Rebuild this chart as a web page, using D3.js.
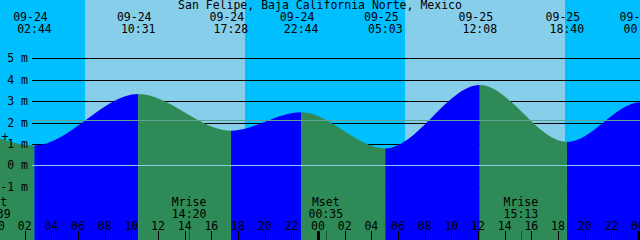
<!DOCTYPE html>
<html>
<head>
<meta charset="utf-8">
<script src="https://cdn.jsdelivr.net/npm/d3@7"></script>
<style>
  html, body { margin: 0; padding: 0; background: #fff; }
  svg { display: block; }
  text { font-family: "DejaVu Sans Mono", monospace; font-size: 11.5px; fill: #000; }
</style>
</head>
<body>
<svg width="640" height="240"></svg>
<script>
const title = 'San Felipe, Baja California Norte, Mexico'

// tide extremes (first and last lie outside the window, they only shape the edges)
const tideTimes = ['2023-09-23 20:00', '2023-09-24 02:44', '2023-09-24 10:31', '2023-09-24 17:28',
  '2023-09-24 22:44', '2023-09-25 05:03', '2023-09-25 12:08', '2023-09-25 18:40',
  '2023-09-26 00:13', '2023-09-26 07:00']
const tideHeights = [2.6, 0.93, 3.33, 1.62, 2.48, 0.79, 3.75, 1.09, 2.95, 0.7]

const sunrises = ['2023-09-24 06:31', '2023-09-25 06:31']
const sunsets = ['2023-09-24 18:31', '2023-09-25 18:31']

const moonTimes = ['2023-09-23 23:39', '2023-09-24 14:20', '2023-09-25 00:35', '2023-09-25 15:13']
const moonKinds = ['Mset', 'Mrise', 'Mset', 'Mrise']

const yTicks = [-1, 0, 1, 2, 3, 4, 5]
const msl = 2.1

const W = 640, H = 240
const parse = d3.utcParse('%Y-%m-%d %H:%M')

const x = d3.scaleUtc()
  .domain([parse('2023-09-24 00:00'), parse('2023-09-26 00:00')])
  .range([-2, 638])

const y = d3.scaleLinear()
  .domain([-1, 5])
  .range([186.7, 58.3])

const svg = d3.select('svg')

// sky: night everywhere, day between sunrise and sunset
svg.append('rect').attr('width', W).attr('height', H).attr('fill', '#00bfff')
svg.selectAll('rect.day')
    .data(sunrises)
  .enter().append('rect')
    .attr('class', 'day')
    .attr('x', d => Math.round(x(parse(d))))
    .attr('width', (d, i) => Math.round(x(parse(sunsets[i]))) - Math.round(x(parse(d))))
    .attr('y', 0).attr('height', H)
    .attr('fill', '#87ceeb')

// black grid lines, covered by the water
svg.selectAll('line.grid')
    .data(yTicks)
  .enter().append('line')
    .attr('x1', 32).attr('x2', W)
    .attr('y1', d => Math.round(y(d)) + 0.5).attr('y2', d => Math.round(y(d)) + 0.5)
    .attr('stroke', '#000')

// water
const tide = tideTimes.map((t, i) => ({ t: parse(t), h: tideHeights[i] }))
const area = d3.area()
  .x(d => x(d.t))
  .y0(H)
  .y1(d => y(d.h))
  .curve(d3.curveMonotoneX)
const path = area(tide)

const segs = d3.pairs(tide)
const defs = svg.append('defs')
defs.selectAll('clipPath')
    .data(segs)
  .enter().append('clipPath')
    .attr('id', (d, i) => 'seg' + i)
  .append('rect')
    .attr('x', d => x(d[0].t))
    .attr('width', d => x(d[1].t) - x(d[0].t))
    .attr('y', 0).attr('height', H)

svg.selectAll('path.water')
    .data(segs)
  .enter().append('path')
    .attr('d', path)
    .attr('clip-path', (d, i) => `url(#seg${i})`)
    .attr('fill', d => d[1].h > d[0].h ? '#0000ff' : '#2e8b57')

// datum and mean sea level
svg.append('line')
  .attr('x1', 32).attr('x2', W)
  .attr('y1', Math.round(y(0)) + 0.5).attr('y2', Math.round(y(0)) + 0.5)
  .attr('stroke', '#87ceeb')
svg.append('line')
  .attr('x1', 32).attr('x2', W)
  .attr('y1', Math.round(y(msl)) + 0.5).attr('y2', Math.round(y(msl)) + 0.5)
  .attr('stroke', '#5fa391')

// y labels
svg.selectAll('text.ylab')
    .data(yTicks)
  .enter().append('text')
    .attr('x', 28)
    .attr('y', d => y(d) + 4)
    .attr('text-anchor', 'end')
    .text(d => d + ' m')
svg.append('text').attr('x', 5).attr('y', 141).attr('text-anchor', 'middle').text('+')

// title and tide event labels
svg.append('text').attr('x', W / 2).attr('y', 9).attr('text-anchor', 'middle').text(title)
const shown = tide.slice(1, -1)
const fmtDate = d3.utcFormat('%m-%d'), fmtTime = d3.utcFormat('%H:%M')
svg.selectAll('text.edate')
    .data(shown)
  .enter().append('text')
    .attr('x', d => x(d.t) - 4)
    .attr('y', 21)
    .attr('text-anchor', 'middle')
    .text(d => fmtDate(d.t))
svg.selectAll('text.etime')
    .data(shown)
  .enter().append('text')
    .attr('x', d => x(d.t))
    .attr('y', 33)
    .attr('text-anchor', 'middle')
    .text(d => fmtTime(d.t))

// moon events
const moon = moonTimes.map((t, i) => ({ t: parse(t), kind: moonKinds[i] }))
svg.selectAll('text.mkind')
    .data(moon)
  .enter().append('text')
    .attr('x', d => x(d.t))
    .attr('y', 206)
    .attr('text-anchor', 'middle')
    .text(d => d.kind)
svg.selectAll('text.mtime')
    .data(moon)
  .enter().append('text')
    .attr('x', d => x(d.t))
    .attr('y', 218)
    .attr('text-anchor', 'middle')
    .text(d => fmtTime(d.t))
svg.selectAll('line.moon')
    .data(moon)
  .enter().append('line')
    .attr('x1', d => Math.round(x(d.t)) + 0.5).attr('x2', d => Math.round(x(d.t)) + 0.5)
    .attr('y1', 231).attr('y2', H)
    .attr('stroke', '#000').attr('stroke-opacity', 0.4)

// hour axis
const hours = x.ticks(d3.utcHour.every(2))
svg.selectAll('text.hour')
    .data(hours)
  .enter().append('text')
    .attr('x', d => x(d))
    .attr('y', 230)
    .attr('text-anchor', 'middle')
    .text(d3.utcFormat('%H'))
svg.selectAll('line.hour')
    .data(hours)
  .enter().append('line')
    .attr('x1', d => Math.round(x(d)) + 0.5).attr('x2', d => Math.round(x(d)) + 0.5)
    .attr('y1', 231).attr('y2', H)
    .attr('stroke', '#000')
    .attr('stroke-width', d => d.getUTCHours() === 0 ? 3 : 1)
</script>
</body>
</html>
